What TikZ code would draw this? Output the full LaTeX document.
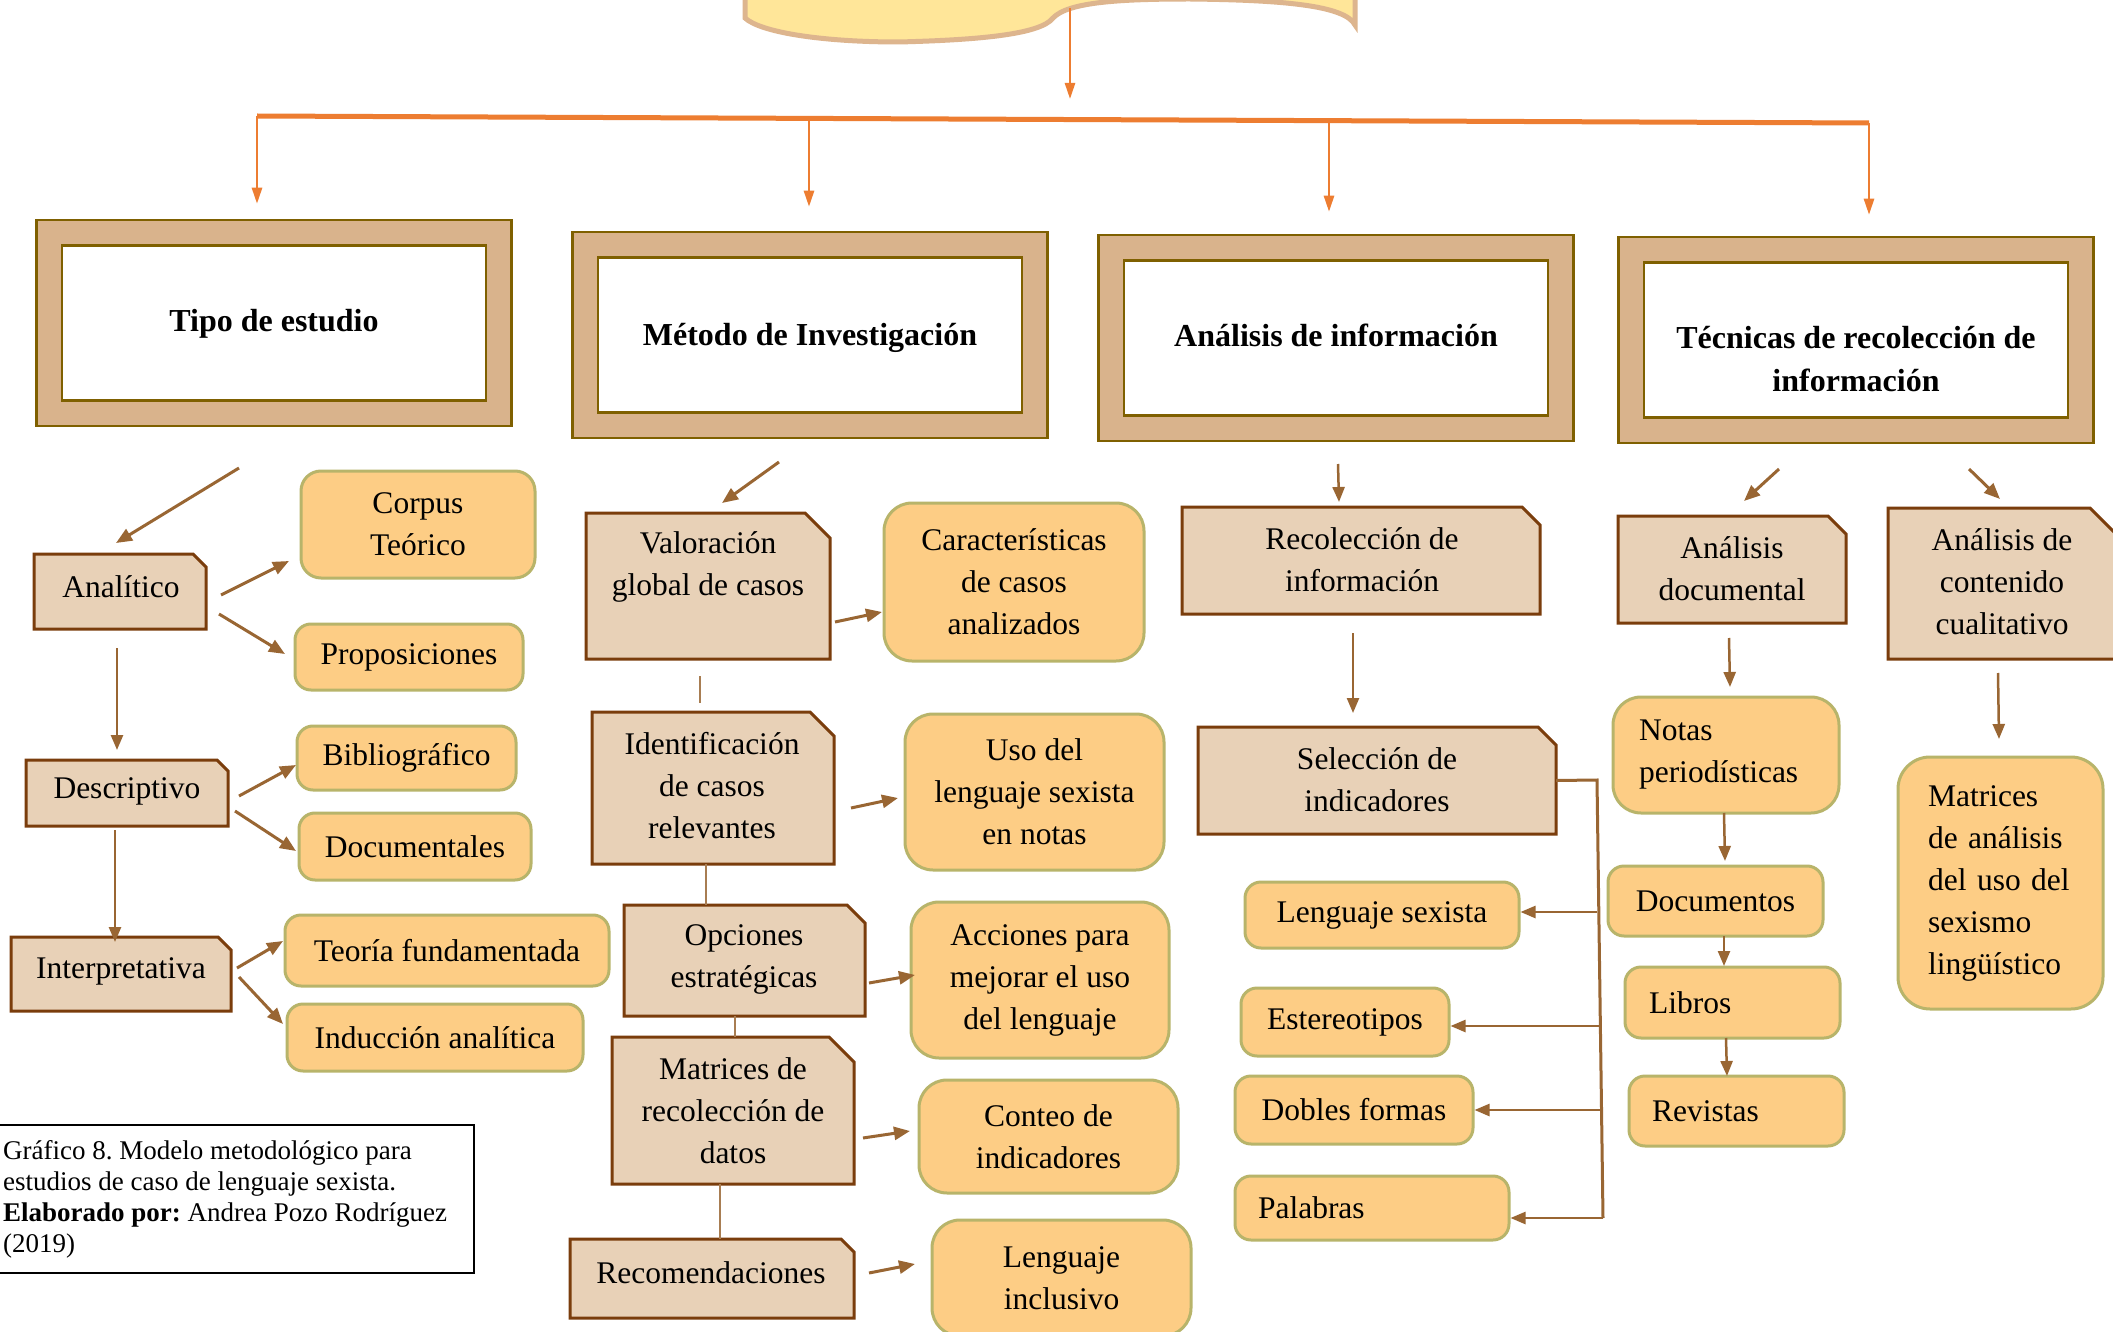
\documentclass[tikz,border=0pt]{standalone}
\usepackage{fontspec}
\setmainfont{Liberation Serif}
\frenchspacing
\usetikzlibrary{arrows.meta,calc}
\definecolor{orng}{HTML}{ED7D31}
\definecolor{hdrfill}{HTML}{D9B38C}
\definecolor{hdrline}{HTML}{7F6000}
\definecolor{snipfill}{HTML}{E8D1B7}
\definecolor{snipline}{HTML}{7A3D0C}
\definecolor{pfill}{HTML}{FDCD85}
\definecolor{pline}{HTML}{B8B46A}
\definecolor{brn}{HTML}{996633}
\definecolor{banfill}{HTML}{FFE699}
\definecolor{banline}{HTML}{DDB58E}
\tikzset{
 txt/.style={font=\fontsize{31.5}{42}\selectfont, align=center, inner sep=0pt},
 hdrout/.style={draw=hdrline, line width=2.5pt, fill=hdrfill, minimum width=475pt, minimum height=206pt, inner sep=0pt},
 hdrin/.style={draw=hdrline, line width=2.5pt, fill=white, minimum width=424pt, minimum height=155pt, inner sep=0pt},
 hdrtxt/.style={inner sep=0pt, align=center, font=\bfseries\fontsize{32}{43}\selectfont},
 snipst/.style={draw=snipline, line width=3pt, fill=snipfill},
 pbox/.style={draw=pline, line width=3pt, fill=pfill, rounded corners=16pt, inner sep=0pt, align=center, font=\fontsize{31.5}{42}\selectfont},
 big/.style={rounded corners=28pt},
 arr/.style={draw=brn, line width=3pt, -{Triangle[length=16pt,width=13pt]}},
 varr/.style={draw=brn, line width=2.5pt, -{Triangle[length=15pt,width=12pt]}},
 thinl/.style={draw=brn!85, line width=1.5pt},
 brk/.style={draw=brn, line width=3pt},
 oarr/.style={draw=orng, line width=2.5pt, -{Triangle[length=16pt,width=10pt]}},
}
\newcommand{\hdr}[5]{%
 \node[hdrout] (#1o) at (#2,#3) {};
 \node[hdrin] (#1) at (#2,#3) {};
 \node[hdrtxt] (#1t) at (#2,{#3+#4}) {#5};}
\newcommand{\snp}[9]{%
 \node[inner sep=0pt, minimum width={#4-#2}, minimum height={#5-#3}] (#1) at ({(#2+#4)/2},{(#3+#5)/2}) {};
 \draw[snipst] (#2,#3) -- ({#4-#6},#3) -- (#4,{#3+#6}) -- (#4,#5) -- (#2,#5) -- cycle;
 \node[txt] (#1t) at (#7,#8) {#9};}
\newcommand{\pb}[7][]{%
 \node[pbox,#1, minimum width={#5-#3}, minimum height={#6-#4}] (#2) at ({(#3+#5)/2},{(#4+#6)/2}) {#7};}
\newcommand{\pbl}[9]{%
 \node[pbox, align=left, inner xsep=#6pt, text width=#7pt, minimum width={#4-#2}, minimum height={#5-#3}, #8] (#1) at ({(#2+#4)/2},{(#3+#5)/2}) {#9};}
\newcommand{\arw}[6][arr]{%
 \coordinate (#2s) at (#3,#4); \coordinate (#2e) at (#5,#6); \draw[#1] (#2s) -- (#2e);}
\begin{document}
\begin{tikzpicture}[x=1pt,y=-1pt]
\useasboundingbox (0,0) rectangle (2113,1332);
\clip (0,0) rectangle (2113,1332);
\fill[white] (0,0) rectangle (2113,1332);
% banner
\draw[banline, line width=5pt, fill=banfill] (745,-10) -- (745,18)
  .. controls (760,32) and (820,42) .. (899,42)
  .. controls (975,40) and (1040,35) .. (1053,18)
  .. controls (1068,2) and (1120,-1) .. (1190,-1)
  .. controls (1280,0) and (1345,5) .. (1355,25) -- (1355,-10) -- cycle;
\coordinate (ban) at (1070,8);
\coordinate (bantip) at (1070,99);
\draw[oarr] (ban) -- (bantip);
% headers
\hdr{tipo}{274}{323}{1}{Tipo de estudio}
\hdr{metodo}{810}{335}{3}{Método de Investigación}
\hdr{anal}{1336}{338}{-3}{Análisis de información}
\hdr{tecn}{1856}{340}{19}{Técnicas de recolección de\\información}
% orange bar and drops
\coordinate (barL) at (257,116);
\coordinate (barR) at (1869,123);
\draw[orng, line width=5pt] (barL) -- (barR);
\coordinate (bar2) at (809,118.4);
\coordinate (bar3) at (1329,120.7);
\draw[oarr, shorten >=15pt] (barL) -- (barL |- tipoo.north);
\draw[oarr, shorten >=24pt] (bar2) -- (bar2 |- metodoo.north);
\draw[oarr, shorten >=22pt] (bar3) -- (bar3 |- analo.north);
\draw[oarr, shorten >=21pt] (barR) -- (barR |- tecno.north);
% column 1
\snp{ana}{34}{554}{206}{629}{13}{121}{587}{Analítico}
\snp{desc}{26}{760}{228}{826}{11}{127}{791}{Descriptivo}
\snp{interp}{11}{937}{231}{1011}{13}{121}{971}{Interpretativa}
\pb[rounded corners=20pt]{corpus}{301}{471}{535}{578}{Corpus\\Teórico}
\pb{prop}{295}{624}{523}{690}{Proposiciones}
\pb{bib}{297}{726}{516}{790}{Bibliográfico}
\pb{docs}{299}{813}{531}{880}{Documentales}
\pb{teoria}{285}{915}{609}{986}{Teoría fundamentada}
\pb{induc}{287}{1004}{583}{1071}{Inducción analítica}
\arw{a1}{239}{468}{116}{543}
\arw{a2}{221}{595}{289}{561}
\arw{a3}{219}{614}{285}{654}
\arw[varr]{a4}{117}{648}{117}{750}
\arw{a5}{239}{796}{296}{765}
\arw{a6}{235}{811}{296}{851}
\arw[varr]{a7}{115}{830}{115}{942}
\arw{a8}{237}{968}{283}{941}
\arw{a9}{239}{977}{283}{1024}
% column 2
\snp{valor}{586}{513}{830}{659}{25}{708}{567}{Valoración\\global de casos}
\snp{ident}{592}{712}{834}{864}{24}{712}{786}{Identificación\\de casos\\relevantes}
\snp{opc}{624}{905}{865}{1016}{18}{744}{959}{Opciones\\estratégicas}
\snp{matr}{612}{1037}{854}{1184}{25}{733}{1111}{Matrices de\\recolección de\\datos}
\snp{recom}{570}{1239}{854}{1318}{13}{711}{1273}{Recomendaciones}
\pb[big]{caract}{884}{503}{1144}{661}{Características\\de casos\\analizados}
\pb[big]{uso}{905}{714}{1164}{870}{Uso del\\lenguaje sexista\\en notas}
\pb[big]{acc}{911}{902}{1169}{1058}{Acciones para\\mejorar el uso\\del lenguaje}
\pb[big]{conteo}{919}{1080}{1178}{1193}{Conteo de\\indicadores}
\pb[big]{linc}{932}{1220}{1191}{1336}{Lenguaje\\inclusivo}
\arw{b1}{779}{462}{722}{503}
\arw{b2}{835}{622}{882}{612}
\arw{b3}{851}{808}{898}{798}
\arw{b4}{869}{983}{915}{975}
\arw{b5}{863}{1138}{910}{1131}
\arw{b6}{869}{1273}{915}{1264}
\arw[thinl]{l1}{700}{676}{700}{703}
\draw[thinl] (ident.south -| 706,0) -- (opc.north -| 706,0);
\draw[thinl] (opc.south -| 735,0) -- (matr.north -| 735,0);
\draw[thinl] (matr.south -| 720,0) -- (recom.north -| 720,0);
% column 3
\snp{recol}{1182}{507}{1540}{614}{18}{1362}{560}{Recolección de\\información}
\snp{sel}{1198}{727}{1556}{834}{18}{1377}{780}{Selección de\\indicadores}
\pb{lsex}{1245}{882}{1519}{948}{Lenguaje sexista}
\pb{ester}{1241}{988}{1449}{1056}{Estereotipos}
\pb{dobles}{1235}{1076}{1473}{1144}{Dobles formas}
\pbl{palab}{1235}{1176}{1509}{1240}{23}{228}{}{Palabras}
\arw[varr]{c1}{1338}{464}{1339}{502}
\arw[varr]{c2}{1353}{633}{1353}{713}
\coordinate (brT) at (1597,780);
\coordinate (brB) at (1603,1218);
\coordinate (br1) at (1597,912);
\coordinate (br2) at (1599,1026);
\coordinate (br3) at (1601,1110);
\draw[brk] (sel.east) -- (brT) -- (brB);
\draw[varr] (br1) -- (lsex.east |- br1);
\draw[varr] (br2) -- (ester.east |- br2);
\draw[varr] (br3) -- (dobles.east |- br3);
\draw[varr] (brB) -- (palab.east |- brB);
% column 4
\snp{adoc}{1618}{516}{1846}{623}{18}{1732}{569}{Análisis\\documental}
\snp{acont}{1888}{508}{2116}{659}{26}{2002}{582}{Análisis de\\contenido\\cualitativo}
\pbl{notas}{1613}{697}{1839}{813}{26}{174}{big}{Notas\\periodísticas}
\pb{docum}{1608}{866}{1823}{936}{Documentos}
\pbl{libros}{1625}{967}{1840}{1038}{24}{167}{}{Libros}
\pbl{revis}{1629}{1076}{1844}{1146}{23}{169}{}{Revistas}
\pbl{matan}{1898}{757}{2103}{1009}{30}{145}{rounded corners=32pt}{Matrices\\de análisis\\del uso del\\sexismo\\lingüístico}
\arw{d1}{1779}{469}{1744}{501}
\arw{d2}{1969}{469}{2000}{499}
\arw[varr]{d3}{1729}{638}{1730}{687}
\arw[varr]{d4}{1724}{813}{1725}{861}
\arw[varr]{d5}{1724}{936}{1724}{966}
\arw[varr]{d6}{1726}{1038}{1727}{1076}
\arw[varr]{d7}{1998}{673}{1999}{739}
% caption
\node[draw=black, line width=1.5pt, inner sep=0pt, minimum width=494pt, minimum height=148pt] (cap) at (227,1199) {};
\node[anchor=west, align=left, inner sep=0pt, font=\fontsize{27}{31}\selectfont] (capt) at (3,1199)
 {Gráfico 8. Modelo metodológico para\\estudios de caso de lenguaje sexista.\\\textbf{Elaborado por:} Andrea Pozo Rodríguez\\(2019)};
\end{tikzpicture}
\end{document}
